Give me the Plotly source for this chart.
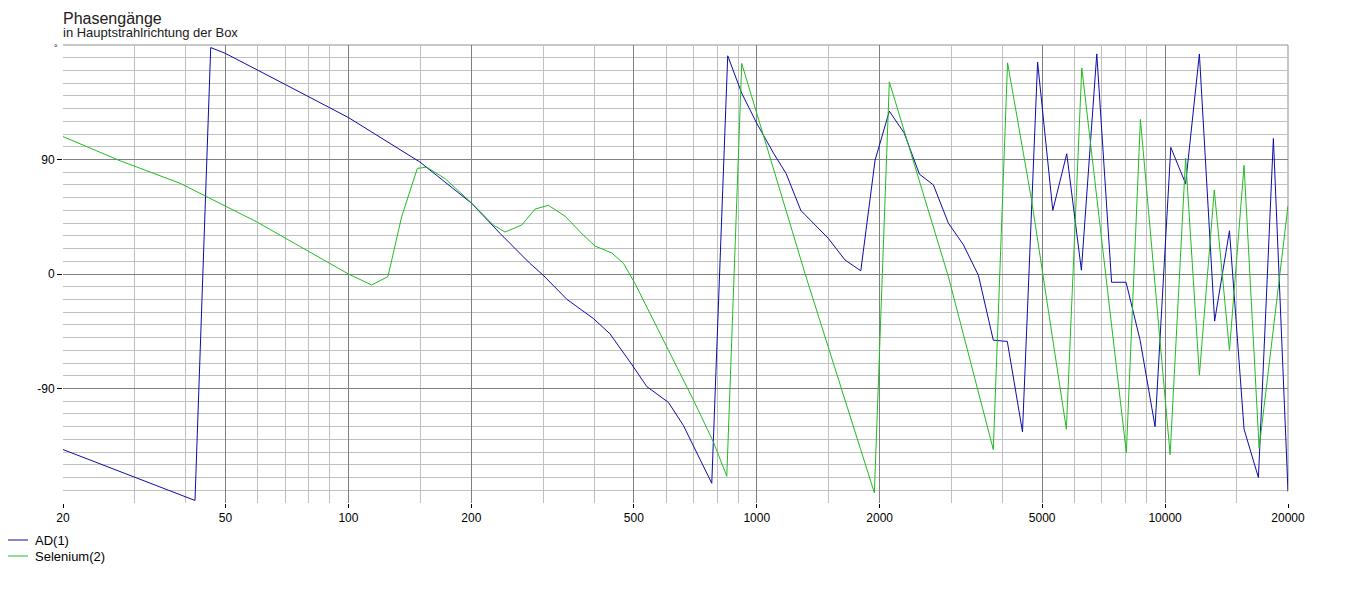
import plotly.graph_objects as go
import math

# ---------------- data ----------------
ad_freq = [20, 42.1, 46.0, 49.9, 70, 100, 149.7, 200.4, 235, 278, 300, 343, 398, 425, 437,
           499, 538, 608, 661, 776, 849, 919, 1000, 1099, 1180, 1282, 1376, 1497, 1645, 1798,
           1949, 2112, 2295, 2502, 2708, 2946, 3206, 3490, 3796, 4108, 4475, 4873, 5309, 5744,
           6238, 6803, 7396, 8026, 8686, 9452, 10328, 11228, 12134, 13222, 14377, 15612, 16926,
           18418, 20000]
ad_phase = [-138, -178, 178, 173.5, 149, 123, 88, 55.5, 32, 8.5, -1, -20, -35, -43, -47,
            -73, -88.5, -101, -119, -164.5, 171.5, 142, 118.5, 95, 79, 50, 40, 28, 11, 2.5,
            89.5, 128, 111, 78.5, 70, 40, 23, -1, -52, -53, -124, 166.5, 50, 94.5,
            3, 173, -6.5, -6.5, -52, -120, 99.5, 71, 173, -37, 34, -122, -160,
            106.5, -171]

se_freq = [20, 27.6, 38.7, 59.6, 100, 114, 125, 135, 147.5, 155.5, 172.4, 198.5, 226.5, 241.8,
           265.8, 286.4, 308.8, 339.2, 376.2, 401.8, 441.6, 471.4, 503.4, 602, 699.6, 783, 844.6,
           918.8, 1314, 1941, 2112, 2946, 3796, 4114, 4716, 5732, 6252, 8038, 8702, 10288,
           11228, 12134, 13200, 14377, 15612, 16994, 20000]
se_phase = [108, 89, 71.3, 41, 0, -8.6, -2, 45, 83, 84, 75, 57, 38.5, 33,
            38.5, 51, 54, 45.5, 30.5, 22, 16.5, 8.5, -7.5, -57, -99, -132, -159,
            165.5, 0, -172, 151, -2, -138, 166, 57, -122, 162, -140.5, 121.5, -142,
            91, -79.5, 66, -60, 85.5, -137, 53.5]

series_names = ["AD(1)", "Selenium(2)"]
series_colors = ["#0c0ca8", "#22bb22"]

x_major = [20, 50, 100, 200, 500, 1000, 2000, 5000, 10000, 20000]
x_major_text = ["20", "50", "100", "200", "500", "1000", "2000", "5000", "10000", "20000"]
x_minor = [30, 40, 60, 70, 80, 90, 150, 300, 400, 600, 700, 800, 900, 1500,
           3000, 4000, 6000, 7000, 8000, 9000, 15000]
y_major = [-90, 0, 90]
y_major_text = ["-90", "0", "90"]
y_minor = [v for v in range(-170, 190, 10) if v not in y_major]

title_text = "Phasengänge"
subtitle_text = "in Hauptstrahlrichtung der Box"

# ---------------- layout geometry (window pixels) ----------------
OFF = 8                      # default body margin of the html page
WIN_W, WIN_H = 1353, 590
W, H = WIN_W - OFF, WIN_H - OFF
L, R, T, B = 63, 1288, 45, 503   # plot area in window pixels
pw, ph = R - L, B - T


def px(xp):
    return (xp - L) / pw


def py(yp):
    return (B - yp) / ph


FONT = "Liberation Sans, Arial, sans-serif"

fig = go.Figure()
fig.add_trace(go.Scatter(x=ad_freq, y=ad_phase, mode="lines", name=series_names[0],
                         line=dict(color=series_colors[0], width=1), showlegend=False))
fig.add_trace(go.Scatter(x=se_freq, y=se_phase, mode="lines", name=series_names[1],
                         line=dict(color=series_colors[1], width=1), showlegend=False))

fig.update_layout(
    width=W, height=H,
    margin=dict(l=L - OFF, r=WIN_W - R, t=T - OFF, b=WIN_H - B, pad=0, autoexpand=False),
    paper_bgcolor="white", plot_bgcolor="white",
    font=dict(family=FONT, size=12, color="#000000"),
    showlegend=False,
    xaxis=dict(
        type="log", range=[math.log10(20), math.log10(20000)],
        tickmode="array", tickvals=x_major, ticktext=x_major_text,
        showgrid=True, gridcolor="#808080", gridwidth=1,
        ticks="outside", ticklen=4, tickcolor="#000000", tickwidth=1,
        showline=False, zeroline=False,
        tickfont=dict(family=FONT, size=12, color="#000000"),
        minor=dict(tickmode="array", tickvals=x_minor, showgrid=True,
                   gridcolor="#c0c0c0", gridwidth=1, ticks=""),
    ),
    yaxis=dict(
        range=[-180, 180],
        tickmode="array", tickvals=y_major, ticktext=y_major_text,
        showgrid=True, gridcolor="#808080", gridwidth=1,
        ticks="outside", ticklen=5, tickcolor="#000000", tickwidth=1,
        showline=False, zeroline=False,
        tickfont=dict(family=FONT, size=12, color="#000000"),
        minor=dict(tickmode="array", tickvals=y_minor, showgrid=True,
                   gridcolor="#c0c0c0", gridwidth=1, ticks=""),
    ),
)

# frame lines (top and right)
fig.add_shape(type="line", xref="paper", yref="paper", x0=0, x1=1, y0=1, y1=1,
              line=dict(color="#909090", width=1), layer="below")
fig.add_shape(type="line", xref="paper", yref="paper", x0=1, x1=1, y0=py(491), y1=1,
              line=dict(color="#909090", width=1), layer="below")

# titles
fig.add_annotation(text=title_text, xref="paper", yref="paper", x=px(62), y=py(18.5),
                   xanchor="left", yanchor="middle", showarrow=False, borderpad=0,
                   font=dict(family=FONT, size=16, color="#202020"))
fig.add_annotation(text=subtitle_text, xref="paper", yref="paper", x=px(62), y=py(33),
                   xanchor="left", yanchor="middle", showarrow=False, borderpad=0,
                   font=dict(family=FONT, size=13, color="#202020"))
fig.add_annotation(text="°", xref="paper", yref="paper", x=px(56), y=py(48),
                   xanchor="center", yanchor="middle", showarrow=False,
                   font=dict(family=FONT, size=9, color="#000000"))

# legend (manual)
for i, (name, col) in enumerate(zip(series_names, series_colors)):
    yy = 540 + 16 * i
    fig.add_shape(type="line", xref="paper", yref="paper", x0=px(7), x1=px(28),
                  y0=py(yy), y1=py(yy), line=dict(color=col, width=1))
    fig.add_annotation(text=name, xref="paper", yref="paper", x=px(33), y=py(yy),
                       xanchor="left", yanchor="middle", showarrow=False,
                       font=dict(family=FONT, size=13, color="#000000"))

fig.write_html("out.html")
